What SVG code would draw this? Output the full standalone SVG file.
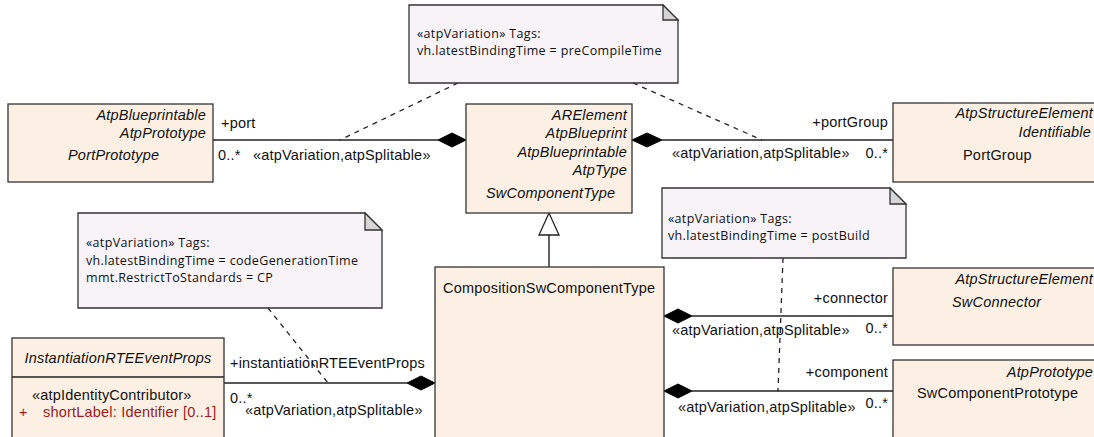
<svg xmlns="http://www.w3.org/2000/svg" width="1094" height="437" viewBox="0 0 1094 437">
<style>
.cls{fill:#FBF0E3;stroke:#333;stroke-width:1.3}
.note{fill:#F7F3F7;stroke:#333;stroke-width:1.3}
.fold{fill:#D6D6D6;stroke:#333;stroke-width:1.3}
.t{font-family:"Liberation Sans",Arial,sans-serif;font-size:14.5px;letter-spacing:0.2px;fill:#111}
.i{font-style:italic}
.r{text-anchor:end}
.n{font-family:"Open Sans","Noto Sans",sans-serif;font-size:12.5px;letter-spacing:0.35px;fill:#111}
.red{fill:#9B1B1B}
.ln{stroke:#222;stroke-width:1.4;fill:none}
.dash{stroke:#222;stroke-width:1.3;fill:none;stroke-dasharray:5,5}
.dia{fill:#000;stroke:#000}
</style>
<rect width="1094" height="437" fill="#fff"/>

<g id="connectors">
  <line class="ln" x1="213" y1="140" x2="438" y2="140"/>
  <polygon class="dia" points="466,140 452,133 438,140 452,147"/>
  <line class="ln" x1="662" y1="140" x2="893" y2="140"/>
  <polygon class="dia" points="632,140 647,133 662,140 647,147"/>
  <line class="ln" x1="692" y1="316" x2="893" y2="316"/>
  <polygon class="dia" points="664,316 678,309 692,316 678,323"/>
  <line class="ln" x1="692" y1="391" x2="893" y2="391"/>
  <polygon class="dia" points="664,391 678,384 692,391 678,398"/>
  <line class="ln" x1="224" y1="383" x2="407" y2="383"/>
  <polygon class="dia" points="435,383 421,376 407,383 421,390"/>
  <line class="ln" x1="549" y1="235" x2="549" y2="267"/>
  <polygon points="549,213 539,235 559,235" fill="#fff" stroke="#222" stroke-width="1.3"/>
  <line class="dash" x1="458" y1="83" x2="340" y2="140"/>
  <line class="dash" x1="633" y1="83" x2="762" y2="140"/>
  <line class="dash" x1="268" y1="308" x2="328" y2="383"/>
  <line class="dash" x1="783" y1="258" x2="778" y2="391"/>
  <text class="t" x="221" y="128">+port</text>
  <text class="t" x="218" y="160">0..*</text>
  <text class="t" x="253" y="160">«atpVariation,atpSplitable»</text>
  <text class="t r" x="888" y="127">+portGroup</text>
  <text class="t" x="672" y="158">«atpVariation,atpSplitable»</text>
  <text class="t r" x="888" y="158">0..*</text>
  <text class="t r" x="888" y="303">+connector</text>
  <text class="t" x="672" y="335">«atpVariation,atpSplitable»</text>
  <text class="t r" x="888" y="333">0..*</text>
  <text class="t r" x="888" y="377">+component</text>
  <text class="t" x="678" y="412">«atpVariation,atpSplitable»</text>
  <text class="t r" x="888" y="408">0..*</text>
  <text class="t" x="230" y="368">+instantiationRTEEventProps</text>
  <text class="t" x="230" y="403">0..*</text>
  <text class="t" x="245" y="415">«atpVariation,atpSplitable»</text>
</g>

<g id="noteTop">
  <path class="note" d="M409,5 H663 L678,20 V83 H409 Z"/>
  <path class="fold" d="M663,5 V20 H678 Z"/>
  <text class="n" x="417" y="38">«atpVariation» Tags:</text>
  <text class="n" x="417" y="55">vh.latestBindingTime = preCompileTime</text>
</g>

<g id="noteLeft">
  <path class="note" d="M78,213 H365 L382,230 V308 H78 Z"/>
  <path class="fold" d="M365,213 V230 H382 Z"/>
  <text class="n" x="86" y="247">«atpVariation» Tags:</text>
  <text class="n" x="86" y="265">vh.latestBindingTime = codeGenerationTime</text>
  <text class="n" x="86" y="282">mmt.RestrictToStandards = CP</text>
</g>

<g id="noteRight">
  <path class="note" d="M662,188 H890 L906,204 V258 H662 Z"/>
  <path class="fold" d="M890,188 V204 H906 Z"/>
  <text class="n" x="668" y="223">«atpVariation» Tags:</text>
  <text class="n" x="668" y="240">vh.latestBindingTime = postBuild</text>
</g>

<g id="PortPrototype">
  <rect class="cls" x="8" y="104" width="205" height="78"/>
  <text class="t i r" x="206" y="120">AtpBlueprintable</text>
  <text class="t i r" x="206" y="138">AtpPrototype</text>
  <text class="t i" x="68" y="160">PortPrototype</text>
</g>

<g id="SwComponentType">
  <rect class="cls" x="466" y="104" width="166" height="109"/>
  <text class="t i r" x="627" y="120">ARElement</text>
  <text class="t i r" x="627" y="138">AtpBlueprint</text>
  <text class="t i r" x="627" y="157">AtpBlueprintable</text>
  <text class="t i r" x="627" y="175">AtpType</text>
  <text class="t i" x="486" y="198">SwComponentType</text>
</g>

<g id="PortGroup">
  <rect class="cls" x="893" y="103" width="210" height="79"/>
  <text class="t i r" x="1093" y="118">AtpStructureElement</text>
  <text class="t i r" x="1091" y="137">Identifiable</text>
  <text class="t" x="963" y="160">PortGroup</text>
</g>

<g id="CompositionSwComponentType">
  <rect class="cls" x="435" y="267" width="229" height="185"/>
  <text class="t" x="443" y="293">CompositionSwComponentType</text>
</g>

<g id="SwConnector">
  <rect class="cls" x="893" y="268" width="210" height="77"/>
  <text class="t i r" x="1093" y="284">AtpStructureElement</text>
  <text class="t i" x="952" y="307">SwConnector</text>
</g>

<g id="SwComponentPrototype">
  <rect class="cls" x="893" y="360" width="210" height="92"/>
  <text class="t i r" x="1093" y="377">AtpPrototype</text>
  <text class="t" x="917" y="398">SwComponentPrototype</text>
</g>

<g id="InstantiationRTEEventProps">
  <rect class="cls" x="12" y="338" width="212" height="114"/>
  <line class="ln" x1="12" y1="377" x2="224" y2="377"/>
  <text class="t i" x="118" y="363" text-anchor="middle">InstantiationRTEEventProps</text>
  <text class="t" x="32" y="400">«atpIdentityContributor»</text>
  <text class="t red" x="19" y="417">+</text>
  <text class="t red" x="43" y="417">shortLabel: Identifier [0..1]</text>
</g>
</svg>
